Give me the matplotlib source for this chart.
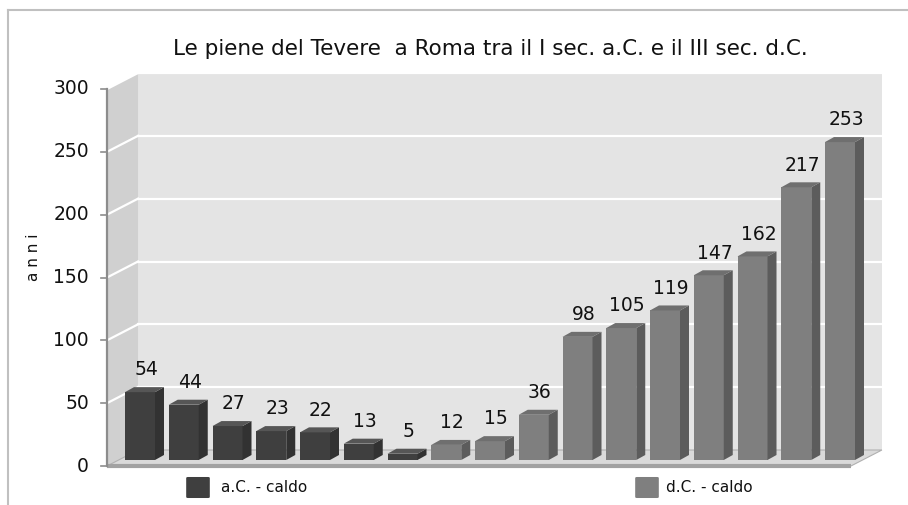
import matplotlib.pyplot as plt
from matplotlib.patches import Polygon, FancyBboxPatch
from matplotlib.lines import Line2D

# dati: anni con piene del Tevere
valori_ac = [54, 44, 27, 23, 22, 13, 5]
valori_dc = [12, 15, 36, 98, 105, 119, 147, 162, 217, 253]
serie = ["a.C. - caldo", "d.C. - caldo"]
yticks = [0, 50, 100, 150, 200, 250, 300]
titolo = "Le piene del Tevere  a Roma tra il I sec. a.C. e il III sec. d.C."

# colori (fronte, lato, sopra)
col_ac = ("#3f3f3f", "#323232", "#565656")
col_dc = ("#7f7f7f", "#5c5c5c", "#6f6f6f")

# geometria "3D" in unita' di dati
PXX = 43.75          # pixel per categoria
PXY = 377 / 300      # pixel per unita' di valore
DX, DY = 31 / PXX, 16 / PXY     # profondita' totale
x0, x1 = -0.754, 16.25          # bordo sinistro / destro del pavimento
DB = 0.375                      # profondita' delle barre
W = 30 / PXX                    # larghezza barra
BX, BY = 9 / PXX, 5 / PXY       # profondita' barra


def proj(x, v, d):
    return (x + d * DX, v + d * DY)


fig = plt.figure(figsize=(9.08, 5.05), dpi=100)
ax = fig.add_axes([0, 0, 1, 1])
ax.set_xlim(-140 / PXX, (908 - 140) / PXX)
ax.set_ylim(-39 / PXY, 466 / PXY)
ax.axis("off")

# pareti e pavimento
ymax = yticks[-1]
ax.add_patch(Polygon([proj(x0, 0, 1), proj(x1, 0, 1), proj(x1, ymax, 1), proj(x0, ymax, 1)],
                     facecolor="#e4e4e4", edgecolor="none", zorder=1))
ax.add_patch(Polygon([proj(x0, 0, 0), proj(x0, 0, 1), proj(x0, ymax, 1), proj(x0, ymax, 0)],
                     facecolor="#d0d0d0", edgecolor="none", zorder=1))
for t in yticks[1:]:
    ax.plot(*zip(proj(x0, t, 1), proj(x1, t, 1)), color="white", lw=1.6, zorder=2)
    ax.plot(*zip(proj(x0, t, 0), proj(x0, t, 1)), color="white", lw=1.6, zorder=2)
ax.add_patch(Polygon([proj(x0, 0, 0), proj(x1, 0, 0), proj(x1, 0, 1), proj(x0, 0, 1)],
                     facecolor="#dadada", edgecolor="#b0b0b0", lw=0.8, zorder=2))
ax.plot([x0, x1], [0, 0], color="#a2a2a2", lw=3, solid_capstyle="butt", zorder=3)

# asse y
ax.plot([x0, x0], [0, ymax], color="#8c8c8c", lw=1.6, zorder=4)
for t in yticks:
    ax.plot([x0 - 6 / PXX, x0], [t, t], color="#8c8c8c", lw=1.2, zorder=4)
    ax.text(-51 / PXX, t, str(t), ha="right", va="center", fontsize=13.5, color="#111111")

# barre
valori = valori_ac + valori_dc
colori = [col_ac] * len(valori_ac) + [col_dc] * len(valori_dc)
base = DB * DY
for i, (v, c) in enumerate(zip(valori, colori)):
    l, r = i - W / 2, i + W / 2
    b, t = base, base + v
    ax.add_patch(Polygon([(l, b), (r, b), (r, t), (l, t)], facecolor=c[0], edgecolor="none", zorder=5))
    ax.add_patch(Polygon([(r, b), (r + BX, b + BY), (r + BX, t + BY), (r, t)],
                         facecolor=c[1], edgecolor="none", zorder=5))
    ax.add_patch(Polygon([(l, t), (r, t), (r + BX, t + BY), (l + BX, t + BY)],
                         facecolor=c[2], edgecolor="none", zorder=5))
    ax.annotate(str(v), (i + 6 / PXX, t), xytext=(0, 16), textcoords="offset points",
                ha="center", va="center", fontsize=13.5, color="#111111", zorder=6)

# titolo ed etichetta asse
ax.text(350 / PXX, 417 / PXY, titolo, ha="center", va="center", fontsize=15.5, color="#111111")
ax.text(-107 / PXX, 209 / PXY, "a n n i", rotation=90, ha="center", va="center",
        fontsize=11, color="#111111")

# legenda
for xs, xt, nome, c in [(188, 221, serie[0], col_ac[0]), (637, 666, serie[1], col_dc[0])]:
    ax.add_patch(FancyBboxPatch((xs / 908, 8 / 505), 20 / 908, 19 / 505,
                                boxstyle="round,pad=0.002", transform=ax.transAxes,
                                facecolor=c, edgecolor="none", zorder=6))
    ax.text(xt / 908, 17 / 505, nome, transform=ax.transAxes, ha="left", va="center",
            fontsize=11, color="#111111")

# cornice
fig.add_artist(Line2D([8 / 908, 1], [1 - 10 / 505, 1 - 10 / 505], color="#c0c0c0", lw=1.5))
fig.add_artist(Line2D([8 / 908, 8 / 908], [0, 1 - 10 / 505], color="#c0c0c0", lw=1.5))

fig.savefig("out.png", dpi=100, facecolor="white")
